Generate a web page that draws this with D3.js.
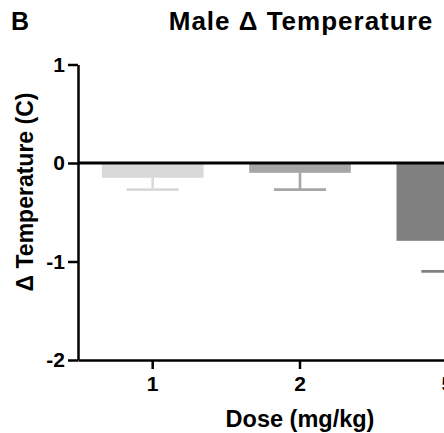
<!DOCTYPE html>
<html>
<head>
<meta charset="utf-8">
<script src="https://cdn.jsdelivr.net/npm/d3@7"></script>
<style>
  body { margin: 0; background: #fff; }
  text { font-family: "Liberation Sans", Arial, sans-serif; font-weight: bold; fill: #000; }
</style>
</head>
<body>
<div id="chart"></div>
<script>
var width = 444;
var height = 433;

var doses = ["1", "2", "5"];
var means = [-0.15, -0.10, -0.79];
var sems = [0.12, 0.17, 0.31];
var colors = ["#d9d9d9", "#a6a6a6", "#808080"];
var yTicks = [1, 0, -1, -2];

var axisX = 78;

var x = d3.scaleBand()
    .domain(doses)
    .range([axisX, 522])
    .paddingInner(0.31)
    .paddingOuter(0.162);

var y = d3.scaleLinear()
    .domain([-2, 1])
    .range([360, 64.5]);

const svg = d3.select("#chart")
    .append("svg")
    .attr("width", width)
    .attr("height", height);

var data = doses.map((d, i) => ({dose: d, mean: means[i], sem: sems[i], color: colors[i]}));

// bars
svg.append("g")
    .selectAll("rect")
    .data(data)
    .join("rect")
      .attr("x", d => x(d.dose))
      .attr("y", d => y(Math.max(0, d.mean)))
      .attr("width", x.bandwidth())
      .attr("height", d => Math.abs(y(d.mean) - y(0)))
      .attr("fill", d => d.color);

// error bars, only the lower half
var err = svg.append("g")
    .selectAll("g")
    .data(data)
    .join("g")
      .attr("stroke", d => d.color)
      .attr("stroke-width", 2.6);

err.append("line")
    .attr("x1", d => x(d.dose) + x.bandwidth() / 2)
    .attr("x2", d => x(d.dose) + x.bandwidth() / 2)
    .attr("y1", d => y(d.mean))
    .attr("y2", d => y(d.mean - d.sem));

err.append("line")
    .attr("x1", d => x(d.dose) + x.bandwidth() / 2 - 26)
    .attr("x2", d => x(d.dose) + x.bandwidth() / 2 + 26)
    .attr("y1", d => y(d.mean - d.sem))
    .attr("y2", d => y(d.mean - d.sem));

// zero line
svg.append("line")
    .attr("x1", axisX)
    .attr("x2", width)
    .attr("y1", y(0))
    .attr("y2", y(0))
    .attr("stroke", "#000")
    .attr("stroke-width", 3);

var tickFont = g => g.selectAll(".tick text")
    .attr("font-size", "21px")
    .attr("font-family", "Liberation Sans, Arial, sans-serif")
    .attr("font-weight", "bold");

// y axis
var yAxis = g => g
    .attr("transform", `translate(${axisX},0)`)
    .call(d3.axisLeft(y).tickValues(yTicks).tickFormat(d => String(d)).tickSize(10).tickSizeOuter(0).tickPadding(3))
    .call(g => g.select(".domain").attr("stroke-width", 2.5))
    .call(g => g.selectAll(".tick line").attr("stroke-width", 2.5))
    .call(tickFont);

svg.append("g").call(yAxis);

// x axis
var xAxis = g => g
    .attr("transform", `translate(0,${y(-2)})`)
    .call(d3.axisBottom(x).tickSize(9).tickSizeOuter(0).tickPadding(7))
    .call(g => g.select(".domain").attr("stroke-width", 2.5))
    .call(g => g.selectAll(".tick line").attr("stroke-width", 2.5))
    .call(tickFont);

svg.append("g").call(xAxis);

// titles
svg.append("text")
    .attr("x", 11)
    .attr("y", 29.5)
    .attr("font-size", "25px")
    .text("B");

svg.append("text")
    .attr("x", 301)
    .attr("y", 29.5)
    .attr("text-anchor", "middle")
    .attr("font-size", "26px")
    .attr("letter-spacing", "1px")
    .text("Male \u0394 Temperature");

svg.append("text")
    .attr("transform", "translate(33,192) rotate(-90)")
    .attr("text-anchor", "middle")
    .attr("font-size", "23px")
    .text("\u0394 Temperature (C)");

svg.append("text")
    .attr("x", 300)
    .attr("y", 426.5)
    .attr("text-anchor", "middle")
    .attr("font-size", "23.5px")
    .text("Dose (mg/kg)");
</script>
</body>
</html>
